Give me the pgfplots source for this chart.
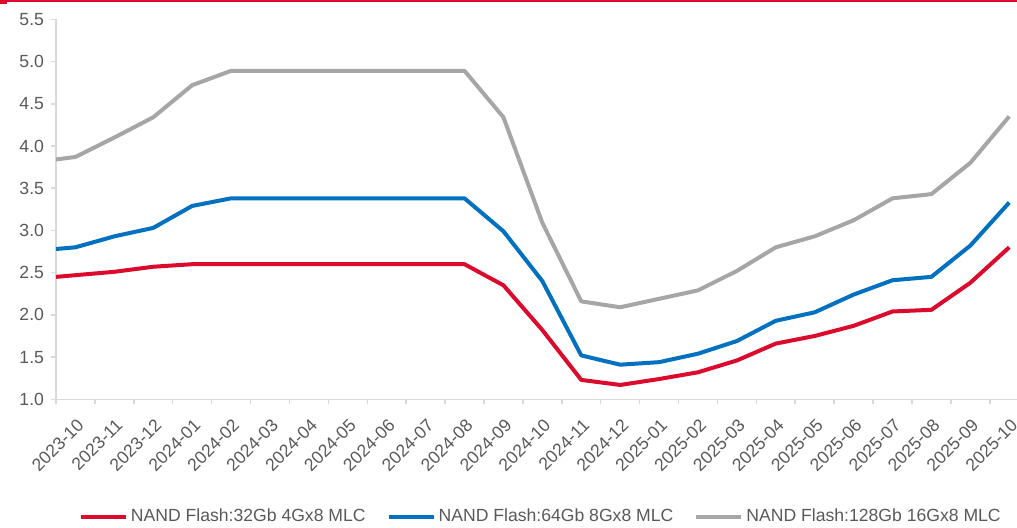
\documentclass[border=0pt]{standalone}
\usepackage{fontspec}
\setmainfont{Liberation Sans}
\usepackage{pgfplots}
\usepackage{pgfplotstable}
\pgfplotsset{compat=1.18}

\definecolor{cred}{HTML}{DC0A2D}
\definecolor{cblue}{HTML}{0070C0}
\definecolor{cgray}{HTML}{A6A6A6}
\definecolor{axgray}{HTML}{D9D9D9}
\definecolor{txgray}{HTML}{595959}

% x = month index (0 = 2023-10), first row is the left edge of the axis
\pgfplotstableread{
x     a     b     c
-0.5  2.45  2.78  3.84
0     2.47  2.80  3.87
1     2.51  2.93  4.10
2     2.57  3.03  4.34
3     2.60  3.29  4.72
4     2.60  3.38  4.89
5     2.60  3.38  4.89
6     2.60  3.38  4.89
7     2.60  3.38  4.89
8     2.60  3.38  4.89
9     2.60  3.38  4.89
10    2.60  3.38  4.89
11    2.35  2.99  4.34
12    1.82  2.40  3.09
13    1.23  1.52  2.16
14    1.17  1.41  2.09
15    1.24  1.44  2.19
16    1.32  1.54  2.29
17    1.46  1.69  2.52
18    1.66  1.93  2.80
19    1.75  2.03  2.93
20    1.87  2.24  3.12
21    2.04  2.41  3.38
22    2.06  2.45  3.43
23    2.38  2.82  3.80
24    2.80  3.33  4.35
}\nandtable

\begin{document}
\begin{tikzpicture}
\useasboundingbox (-28pt,-63.85pt) rectangle (480.5pt,199.65pt);
\begin{axis}[
    at={(0,0)}, anchor=south west,
    width=480.5pt, height=190pt, scale only axis,
    xmin=-0.5, xmax=24.2,
    ymin=1, ymax=5.5,
    axis lines=left,
    axis line style={draw=axgray, line width=0.75pt, -},
    ytick={1,1.5,2,2.5,3,3.5,4,4.5,5,5.5},
    yticklabel style={/pgf/number format/.cd, fixed, fixed zerofill, precision=1},
    /pgf/number format/assume math mode=true,
    xtick={0,...,24},
    xticklabels={2023-10,2023-11,2023-12,2024-01,2024-02,2024-03,2024-04,2024-05,2024-06,2024-07,2024-08,2024-09,2024-10,2024-11,2024-12,2025-01,2025-02,2025-03,2025-04,2025-05,2025-06,2025-07,2025-08,2025-09,2025-10},
    minor xtick={-0.5,0.5,...,23.5},
    major x tick style={draw=none},
    tick style={draw=axgray, line width=0.75pt},
    major tick length=2.5pt, minor tick length=2.5pt,
    tick align=outside,
    tick label style={font=\fontsize{8.8}{10.5}\selectfont, text=txgray},
    x tick label style={xshift=0.3pt, yshift=-5pt, rotate=45, anchor=north east, inner sep=1pt},
    legend columns=3,
    legend style={at={(0.505,-0.31)}, anchor=center, draw=none, fill=none,
        font=\fontsize{8.8}{10.5}\selectfont, text=txgray,
        /tikz/every even column/.append style={column sep=9pt},
        nodes={inner sep=1.5pt}},
    legend image code/.code={\draw[#1] (0pt,0pt) -- (22.5pt,0pt);},
    every axis plot/.append style={line width=2pt, line join=round, no markers},
]
\addplot[cred] table[x=x, y=a] {\nandtable};
\addlegendentry{NAND Flash:32Gb 4Gx8 MLC}
\addplot[cblue] table[x=x, y=b] {\nandtable};
\addlegendentry{NAND Flash:64Gb 8Gx8 MLC}
\addplot[cgray] table[x=x, y=c] {\nandtable};
\addlegendentry{NAND Flash:128Gb 16Gx8 MLC}
\end{axis}
\draw[cred, line width=1.1pt] (-24.5pt,199.1pt) -- (480.5pt,199.1pt);
\fill[cred] (-28pt,199.65pt) rectangle (-24.5pt,197.9pt);
\end{tikzpicture}
\end{document}
